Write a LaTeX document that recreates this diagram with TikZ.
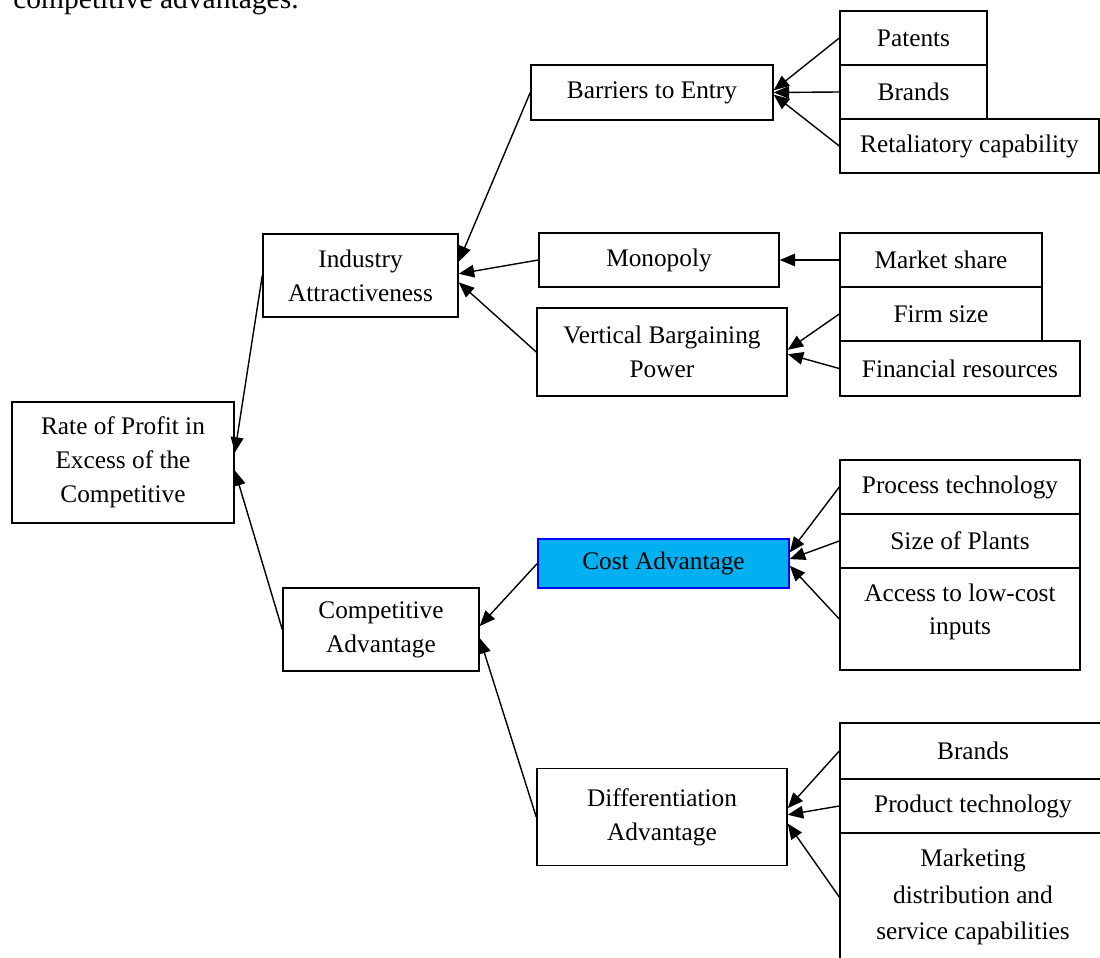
\documentclass[tikz,border=0pt]{standalone}
\usepackage{fontspec}
\setmainfont{Liberation Serif}
\usetikzlibrary{arrows.meta}
\definecolor{costblue}{RGB}{0,176,240}

\begin{document}
\begin{tikzpicture}[
    x=0.025cm, y=-0.025cm,
    font=\fontsize{18}{24}\selectfont,
    blk/.style={draw=black, line width=1pt, inner sep=2pt, align=center, minimum height=1.35cm},
    hl/.style={blk, fill=costblue, draw=blue},
    arr/.style={-{Triangle[length=11pt,width=9pt]}, line width=1pt},
  ]
    \clip (0,0) rectangle (1100,958);

    % running text cut at the top of the page
    \node[anchor=base west, inner sep=0pt, font=\fontsize{21}{25}\selectfont] (txt) at (13,9)
      {competitive advantages.};

    % goal and the two drivers
    \node[blk, minimum width=5.55cm, minimum height=3.025cm] (rate) at (123,462.5)
      {Rate of Profit in\\Excess of the\\Competitive};
    \node[blk, minimum width=4.875cm, minimum height=2.075cm] (ind) at (360.5,275.5)
      {Industry\\Attractiveness};
    \node[blk, minimum width=4.9cm, minimum height=2.075cm] (comp) at (381,629.5)
      {Competitive\\Advantage};

    % middle column
    \node[blk, minimum width=6.05cm, minimum height=1.375cm] (barr) at (652,92.5) {Barriers to Entry};
    \node[blk, minimum width=6cm] (mono) at (659,260) {Monopoly};
    \node[blk, minimum width=6.25cm, minimum height=2.2cm] (vert) at (662,352)
      {Vertical Bargaining\\Power};
    \node[hl, minimum width=6.275cm, minimum height=1.225cm] (cost) at (663.5,563.5) {Cost Advantage};
    \node[blk, minimum width=6.25cm, minimum height=2.425cm] (diff) at (662,817)
      {Differentiation\\Advantage};

    % right column
    \node[blk, minimum width=3.675cm] (pat) at (913.5,38) {Patents};
    \node[blk, minimum width=3.675cm] (brd) at (913.5,92) {Brands};
    \node[blk, minimum width=6.475cm] (ret) at (969.5,146) {Retaliatory capability};
    \node[blk, minimum width=5.05cm] (mkt) at (941,260) {Market share};
    \node[blk, minimum width=5.05cm] (firm) at (941,314) {Firm size};
    \node[blk, minimum width=6cm, minimum height=1.375cm] (fin) at (960,368.5) {Financial resources};
    \node[blk, minimum width=6cm] (proc) at (960,487) {Process technology};
    \node[blk, minimum width=6cm] (plant) at (960,541) {Size of Plants};
    \node[blk, minimum width=6cm, minimum height=2.55cm, text depth=14pt] (acc) at (960,619)
      {Access to low-cost\\inputs};
    \node[blk, minimum width=6.65cm, minimum height=1.4cm] (brd2) at (973,751) {Brands};
    \node[blk, minimum width=6.65cm] (prod) at (973,806) {Product technology};
    \node[blk, minimum width=6.65cm, minimum height=3.2cm, font=\fontsize{18}{26}\selectfont] (mktg) at (973,897)
      {Marketing\\distribution and\\service capabilities};

    \foreach \a/\b in {ind/rate.5, comp/rate.-4,
                       barr/ind.8, mono/ind.1, vert/ind.-4,
                       cost/comp.2, diff/comp.-5,
                       pat/barr.1, brd/barr.0, ret/barr.-1,
                       mkt/mono.0, firm/vert.1, fin/vert.-1,
                       proc/cost.5, plant/cost.2, acc/cost.-1,
                       brd2/diff.4, prod/diff.1, mktg/diff.-3}
      \draw[arr] (\a.west) -- (\b);
  \end{tikzpicture}
\end{document}
